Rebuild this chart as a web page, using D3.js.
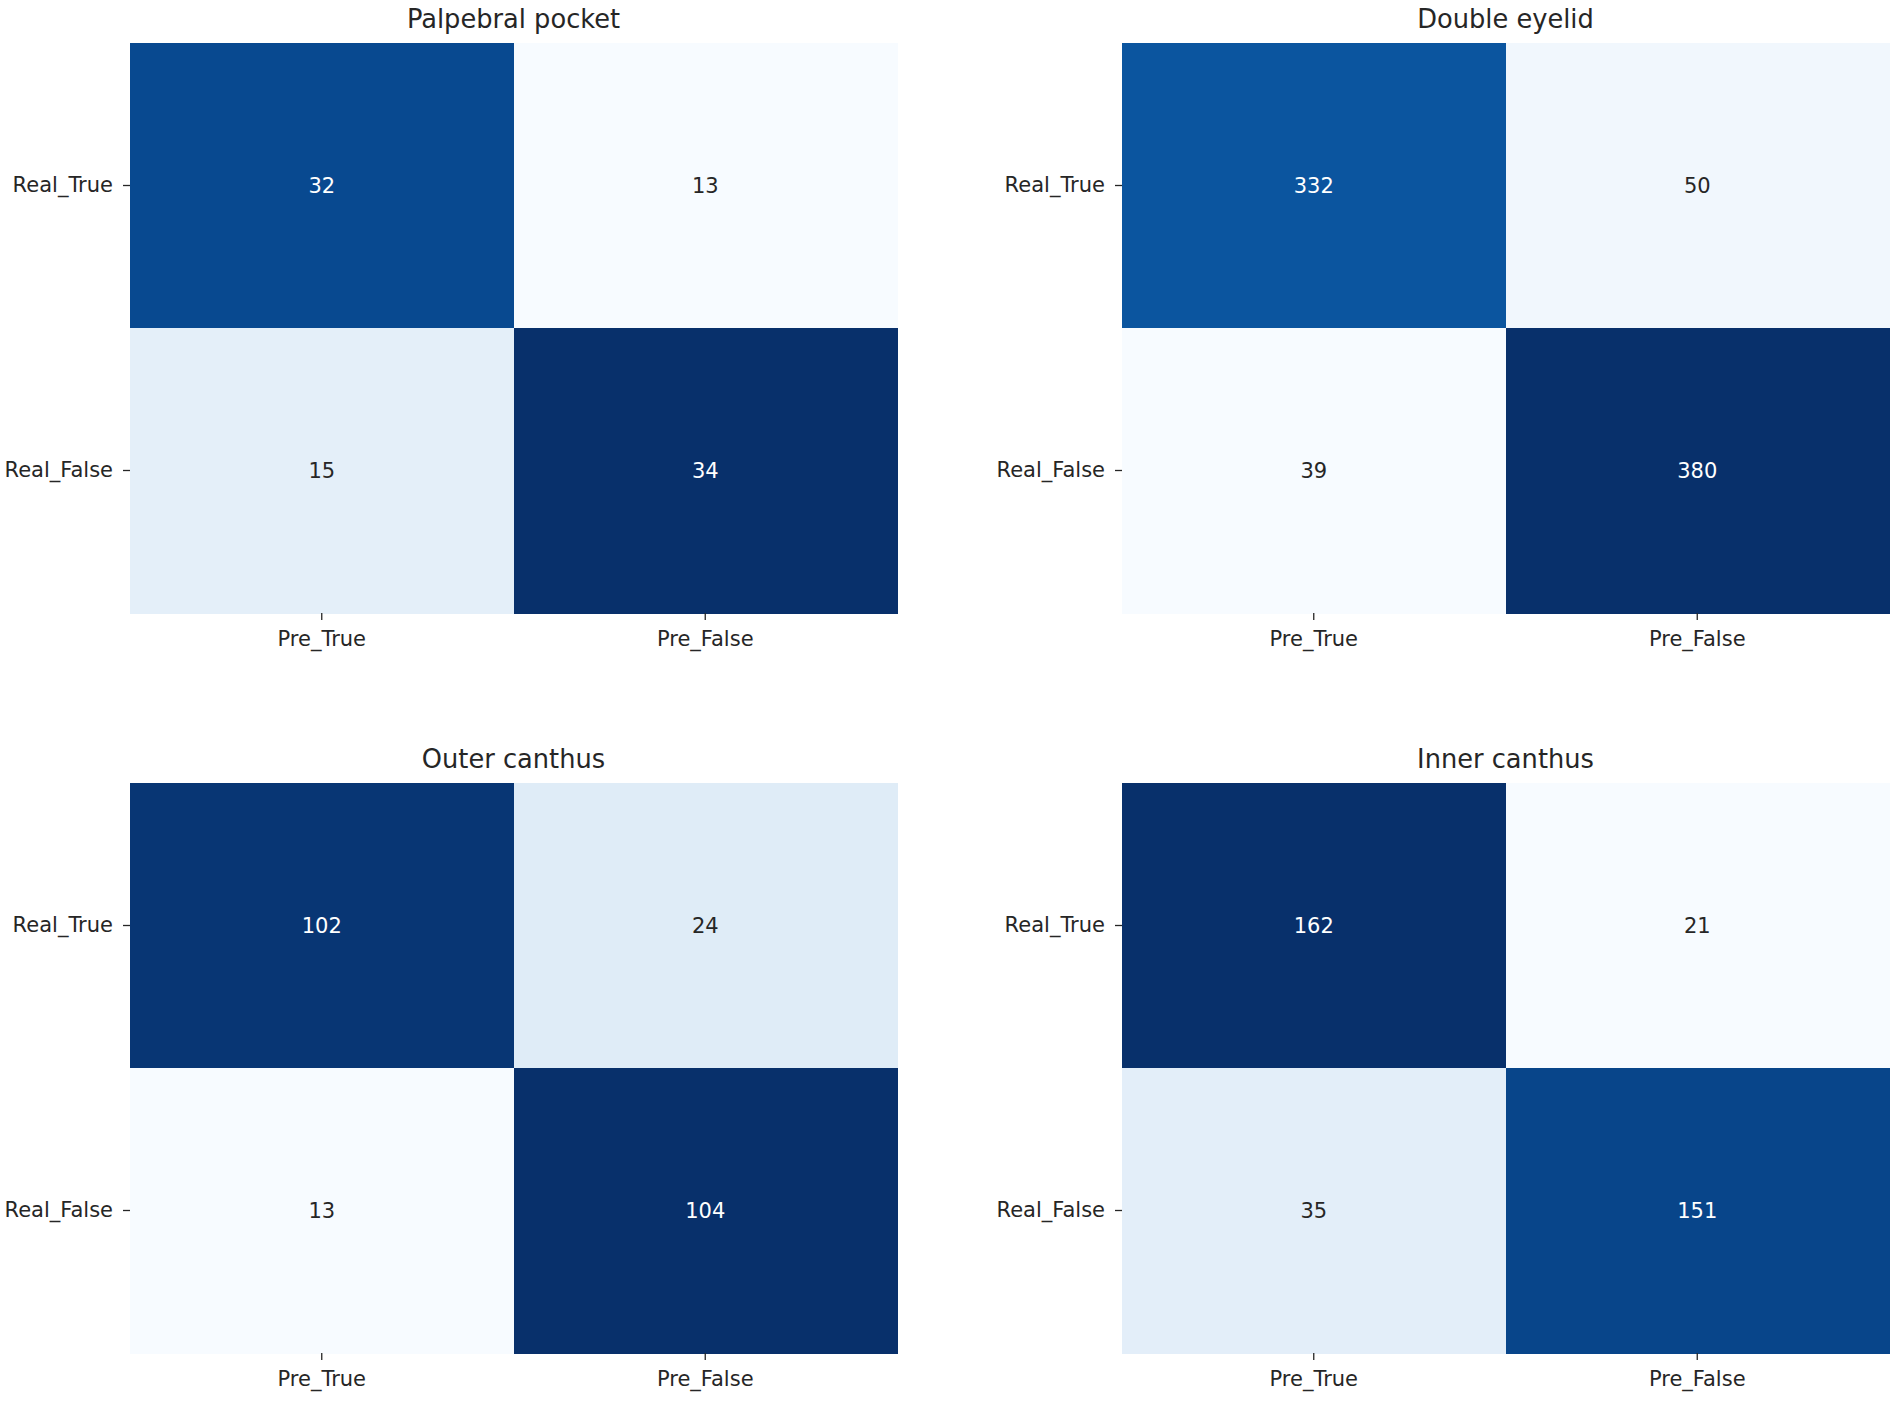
<!DOCTYPE html>
<html>
<head>
<meta charset="utf-8">
<script src="https://cdn.jsdelivr.net/npm/d3@7"></script>
<style>
  body { margin: 0; background: #fff; }
  svg { display: block; font-family: "DejaVu Sans", sans-serif; }
</style>
</head>
<body>
<div id="chart"></div>
<script>
// Tick labels
const predLabels = ['Pre_True', 'Pre_False'];
const realLabels = ['Real_True', 'Real_False'];

// Panel titles
const titles = ['Palpebral pocket', 'Double eyelid', 'Outer canthus', 'Inner canthus'];

// Confusion matrices (rows = real, cols = predicted)
const palpebralPocket = [[32, 13], [15, 34]];
const doubleEyelid = [[332, 50], [39, 380]];
const outerCanthus = [[102, 24], [13, 104]];
const innerCanthus = [[162, 21], [35, 151]];

const matrices = [palpebralPocket, doubleEyelid, outerCanthus, innerCanthus];

// matplotlib "Blues" stops
const bluesStops = ['#f7fbff', '#deebf7', '#c6dbef', '#9ecae1', '#6baed6',
                    '#4292c6', '#2171b5', '#08519c', '#08306b'];

const W = 1902, H = 1402;
const panelW = 767, panelH = 570;
const colX = [130, 1122];
const rowY = [43, 783];

const svg = d3.select('#chart')
    .append('svg')
        .attr('width', W)
        .attr('height', H);

matrices.forEach((m, idx) => {
    const gx = colX[idx % 2];
    const gy = rowY[Math.floor(idx / 2)];

    const g = svg.append('g')
        .attr('transform', `translate(${gx},${gy})`);

    const x = d3.scaleBand().domain(predLabels).range([0, panelW]);
    const y = d3.scaleBand().domain(realLabels).range([0, panelH]);

    const flat = m.flat();
    const vmin = d3.min(flat), vmax = d3.max(flat);
    const color = d3.scaleLinear()
        .domain(bluesStops.map((_, i) => vmin + (vmax - vmin) * i / (bluesStops.length - 1)))
        .range(bluesStops)
        .interpolate(d3.interpolateRgb)
        .clamp(true);

    const cells = [];
    m.forEach((row, i) => row.forEach((v, j) => cells.push({ real: realLabels[i], pred: predLabels[j], v })));

    // Heatmap cells
    g.selectAll('rect')
        .data(cells)
        .enter()
        .append('rect')
            .attr('x', d => x(d.pred))
            .attr('y', d => y(d.real))
            .attr('width', x.bandwidth() + 0.5)
            .attr('height', y.bandwidth() + 0.5)
            .attr('fill', d => color(d.v))
            .attr('shape-rendering', 'crispEdges');

    // Annotations: white on dark cells, dark grey on light cells
    g.selectAll('text.annot')
        .data(cells)
        .enter()
        .append('text')
            .attr('class', 'annot')
            .attr('x', d => x(d.pred) + x.bandwidth() / 2)
            .attr('y', d => y(d.real) + y.bandwidth() / 2)
            .attr('dy', '0.35em')
            .style('text-anchor', 'middle')
            .style('font-size', '21px')
            .attr('fill', d => d3.hsl(color(d.v)).l > 0.6 ? '#262626' : '#ffffff')
            .text(d => d.v);

    // Axes
    const xAxis = g.append('g')
        .attr('transform', `translate(0,${panelH})`)
        .call(d3.axisBottom(x).tickSize(7).tickPadding(11));
    const yAxis = g.append('g')
        .call(d3.axisLeft(y).tickSize(7).tickPadding(10));

    [xAxis, yAxis].forEach(a => {
        a.select('.domain').remove();
        a.selectAll('line').attr('stroke', '#262626').attr('stroke-width', 1.3);
        a.selectAll('text')
            .attr('fill', '#262626')
            .style('font-size', '21px')
            .style('font-family', '"DejaVu Sans", sans-serif');
    });

    // Title
    g.append('text')
        .attr('x', panelW / 2)
        .attr('y', -15)
        .style('text-anchor', 'middle')
        .style('font-size', '25.7px')
        .attr('fill', '#262626')
        .text(titles[idx]);
});
</script>
</body>
</html>
